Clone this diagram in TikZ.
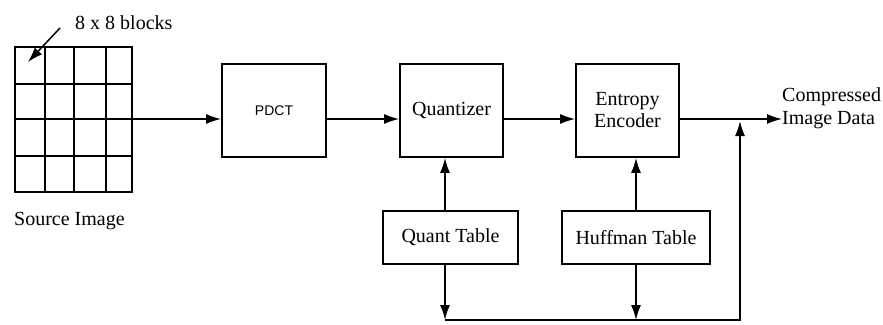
\documentclass[tikz,border=0pt]{standalone}
\usepackage{fontspec}
\setmainfont{Liberation Serif}
\newfontfamily\pdctfont{Liberation Sans}
\usetikzlibrary{arrows.meta}
\begin{document}
\begin{tikzpicture}[x=1pt,y=-1pt,
  blk/.style={draw, line width=1.8pt, inner sep=0pt, align=center,
    font=\fontsize{20}{22}\selectfont},
  lbl/.style={inner sep=0pt, align=left, font=\fontsize{20}{23}\selectfont},
  arr/.style={-{Latex[length=15pt,width=10pt]}, line width=1.5pt},
  gridline/.style={line width=1.7pt}]
\useasboundingbox (0,0) rectangle (883,324);
% source image grid
\node[minimum width=117pt, minimum height=146pt, inner sep=0pt] (src) at (73.5,119) {};
\draw[gridline] (15,47) rectangle (132,192);
\foreach \x in {45,74,106} \draw[gridline] (\x,47) -- (\x,192);
\foreach \y in {84,119,156} \draw[gridline] (15,\y) -- (132,\y);
\node[lbl, anchor=west] (blocks) at (75,23) {8 x 8 blocks};
\node[lbl, anchor=west] (srclbl) at (14,221) {Source Image};
\coordinate (tail) at (60,28);
\coordinate (cell) at (28,62);
\draw[arr] (tail) -- (cell);
% blocks
\node[blk, minimum width=104pt, minimum height=93pt] (pdct) at (274,110.5) {\pdctfont\fontsize{14}{16}\selectfont PDCT};
\node[blk, minimum width=103pt, minimum height=93pt] (qz) at (451.5,110.5) {Quantizer};
\node[blk, minimum width=103pt, minimum height=93pt] (enc) at (627.5,110.5) {Entropy\\Encoder};
\node[blk, minimum width=135pt, minimum height=53pt] (qt) at (450.5,237.5) {Quant Table};
\node[blk, minimum width=148pt, minimum height=53pt] (ht) at (636,237.5) {Huffman Table};
\node[lbl, anchor=west] (out) at (782,108) {Compressed\\Image Data};
% main row
\coordinate (row) at (0,119);
\draw[arr] (src.east) -- (src.east -| pdct.west);
\draw[arr] (pdct.east |- row) -- (qz.west |- row);
\draw[arr] (qz.east |- row) -- (enc.west |- row);
\draw[arr] (enc.east |- row) -- (out.west |- row);
% tables
\coordinate (fb1) at (445,320);
\coordinate (fb2) at (740,320);
\coordinate (join) at (740,121);
\draw[arr] (qt.north -| fb1) -- (qz.south -| fb1);
\draw[arr] (ht.north) -- (ht.north |- enc.south);
\draw[arr] (qt.south -| fb1) -- (fb1);
\draw[arr] (ht.south) -- (ht.south |- fb1);
\draw[arr] (fb1) -- (fb2) -- (join);
\end{tikzpicture}
\end{document}
